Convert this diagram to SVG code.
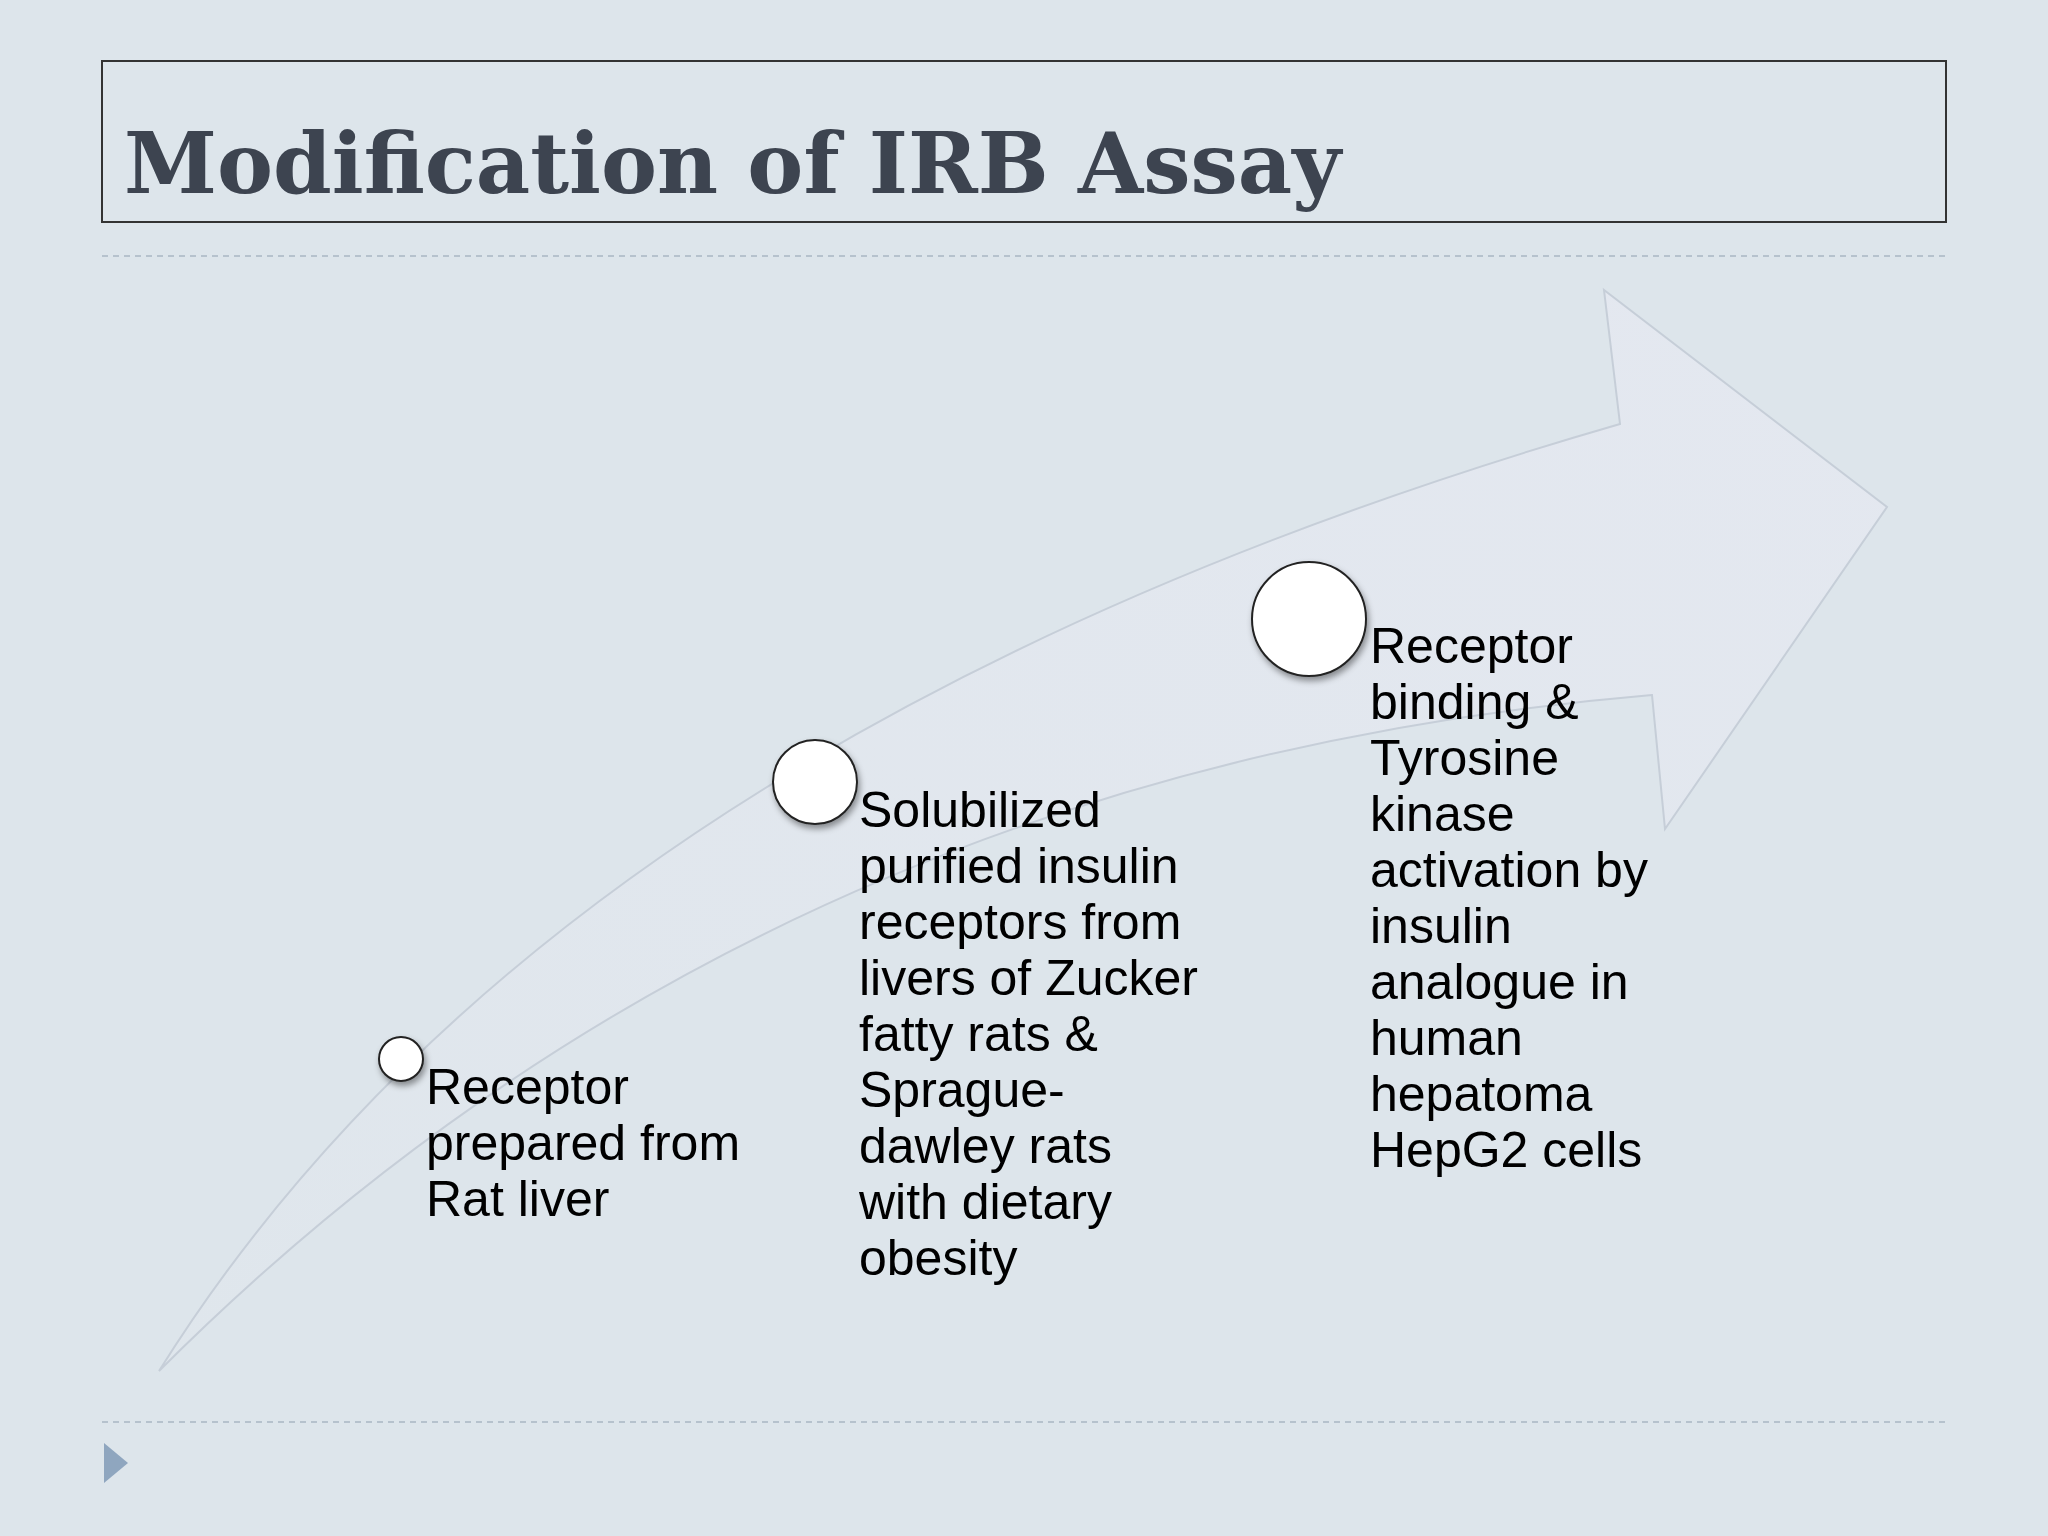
<svg xmlns="http://www.w3.org/2000/svg" width="2048" height="1536" viewBox="0 0 2048 1536">
<defs>
<style>
.t{font-family:"Liberation Sans",Arial,sans-serif;font-size:50px;fill:#000}
.c{fill:#fff;stroke:#222;stroke-width:2}
.d{stroke:#a9b6c4;stroke-width:1.5;stroke-dasharray:6 5}
</style>
<filter id="sh" x="-30%" y="-30%" width="160%" height="160%"><feDropShadow dx="2" dy="4" stdDeviation="3" flood-opacity="0.4"/></filter>
<linearGradient id="g" x1="0" y1="1" x2="1" y2="0"><stop offset="0" stop-color="#dfe6ec"/><stop offset="1" stop-color="#e4e8f0"/></linearGradient>
</defs>
<rect width="2048" height="1536" fill="#dde5eb"/>
<g id="title">
<rect x="102" y="61" width="1844" height="161" fill="none" stroke="#333" stroke-width="2"/>
<text x="124" y="193" font-family="'DejaVu Serif',serif" font-weight="bold" font-size="84" fill="#3d4450">Modification of IRB Assay</text>
</g>
<line class="d" x1="102" y1="256" x2="1946" y2="256"/>
<line class="d" x1="102" y1="1422" x2="1946" y2="1422"/>
<polygon points="104,1443 128,1463 104,1483" fill="#8fa6bf"/>
<g id="arrow">
<path d="M159,1371 Q 560,730 1620,424 L1604,290 L1887,507 L1665,829 L1652,695 Q 760,770 159,1371 Z" fill="url(#g)" stroke="#c6ced8" stroke-width="2"/>
</g>
<g id="node1">
<circle class="c" cx="401" cy="1059" r="22" filter="url(#sh)"/>
<text class="t" x="426" y="1104">Receptor<tspan x="426" dy="56">prepared from</tspan><tspan x="426" dy="56">Rat liver</tspan></text>
</g>
<g id="node2">
<circle class="c" cx="815" cy="782" r="42" filter="url(#sh)"/>
<text class="t" x="859" y="827">Solubilized<tspan x="859" dy="56">purified insulin</tspan><tspan x="859" dy="56">receptors from</tspan><tspan x="859" dy="56">livers of Zucker</tspan><tspan x="859" dy="56">fatty rats &amp;</tspan><tspan x="859" dy="56">Sprague-</tspan><tspan x="859" dy="56">dawley rats</tspan><tspan x="859" dy="56">with dietary</tspan><tspan x="859" dy="56">obesity</tspan></text>
</g>
<g id="node3">
<circle class="c" cx="1309" cy="619" r="57" filter="url(#sh)"/>
<text class="t" x="1370" y="663">Receptor<tspan x="1370" dy="56">binding &amp;</tspan><tspan x="1370" dy="56">Tyrosine</tspan><tspan x="1370" dy="56">kinase</tspan><tspan x="1370" dy="56">activation by</tspan><tspan x="1370" dy="56">insulin</tspan><tspan x="1370" dy="56">analogue in</tspan><tspan x="1370" dy="56">human</tspan><tspan x="1370" dy="56">hepatoma</tspan><tspan x="1370" dy="56">HepG2 cells</tspan></text>
</g>
<g id="connectors"/>
</svg>
